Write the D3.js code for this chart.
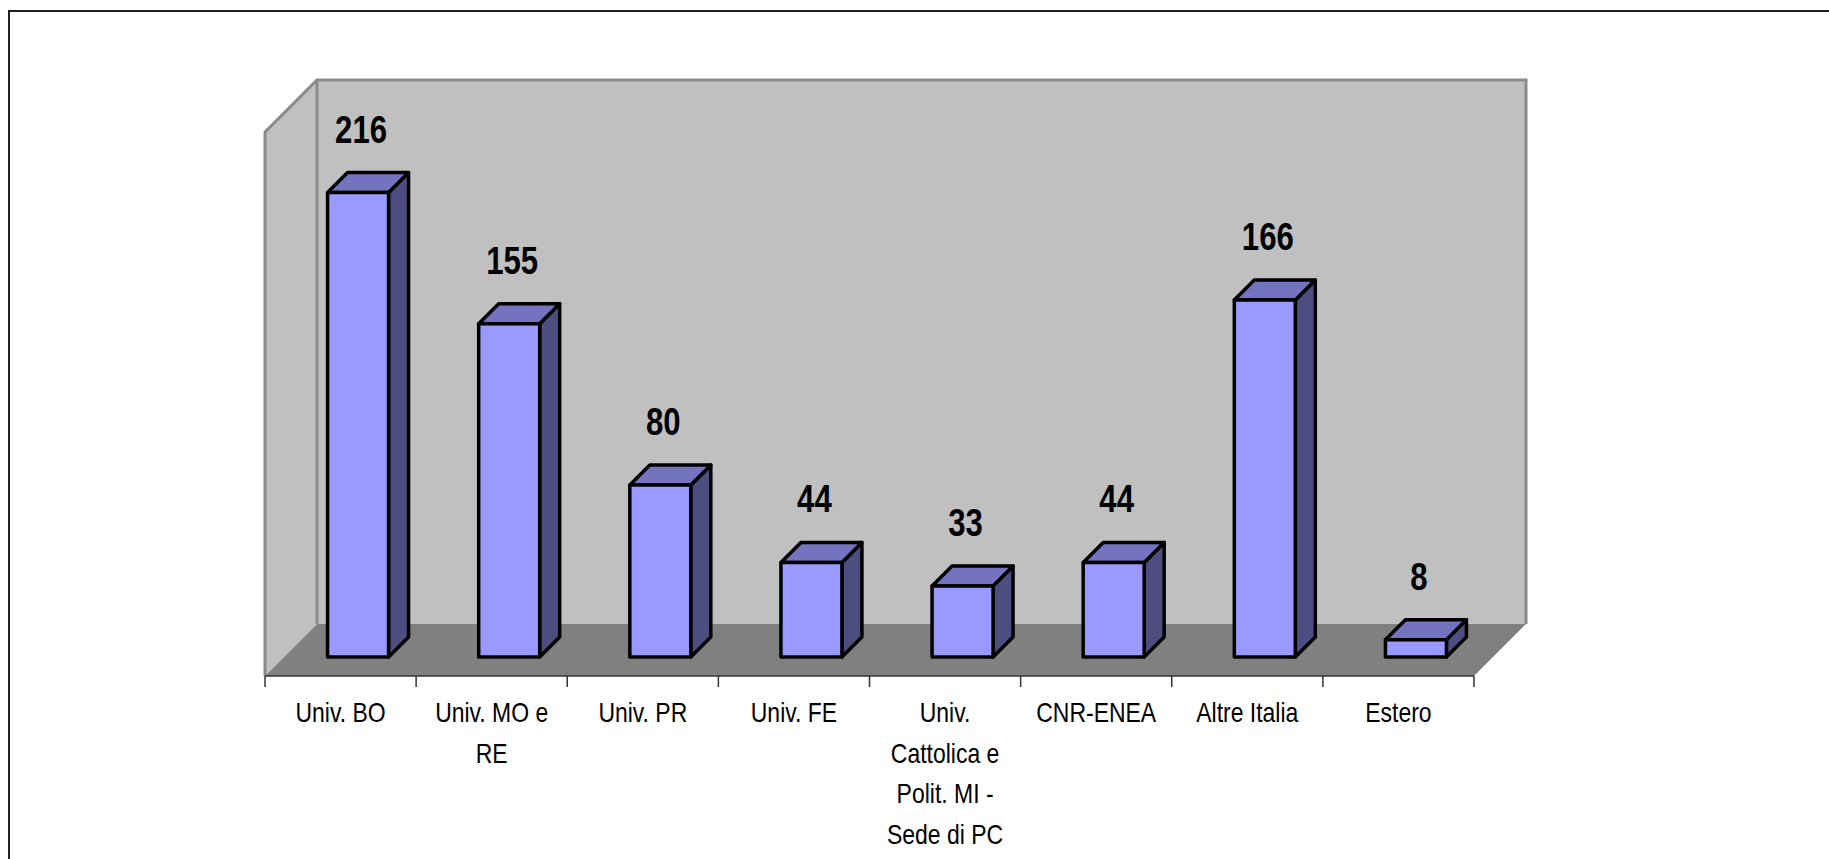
<!DOCTYPE html>
<html>
<head>
<meta charset="utf-8">
<script src="https://cdn.jsdelivr.net/npm/d3@7"></script>
<style>
  body { margin: 0; background: #fff; }
  text { font-family: "Liberation Sans", Arial, sans-serif; }
</style>
</head>
<body>
<svg id="chart" width="1829" height="859"></svg>
<script>
// categories (wrapped as in the picture) and values
const categories = ["Univ. BO", "Univ. MO e RE", "Univ. PR", "Univ. FE",
  "Univ. Cattolica e Polit. MI - Sede di PC", "CNR-ENEA", "Altre Italia", "Estero"];
const labelLines = [["Univ. BO"], ["Univ. MO e", "RE"], ["Univ. PR"], ["Univ. FE"],
  ["Univ.", "Cattolica e", "Polit. MI -", "Sede di PC"], ["CNR-ENEA"], ["Altre Italia"], ["Estero"]];
const values = [216, 155, 80, 44, 33, 44, 166, 8];
const yDomain = [0, 253];

const svg = d3.select("#chart");
const narrow = 0.82; // squeeze Liberation Sans to look like Arial Narrow

// outer frame (runs off the right/bottom edge)
svg.append("rect")
  .attr("x", 9).attr("y", 11).attr("width", 1900).attr("height", 900)
  .attr("fill", "none").attr("stroke", "#222").attr("stroke-width", 2);

const left = 265, right = 1474, floorY = 676;
const D = 52;            // depth of the floor
const z0 = 19, z1 = 39;  // bar front/back depth

const x = d3.scaleBand().domain(categories).range([left, right]).padding(0);
const y = d3.scaleLinear().domain(yDomain).range([floorY, 132]);

const P = (px, py, z) => [px + z, py - z];
const poly = pts => "M" + pts.map(p => p.join(",")).join("L") + "Z";

const wallTop = y(yDomain[1]);
const wall = svg.append("g");

// left side wall
wall.append("path")
  .attr("d", poly([P(left, wallTop, 0), P(left, wallTop, D), P(left, floorY, D), P(left, floorY, 0)]))
  .attr("fill", "#c0c0c0");
// back wall
wall.append("path")
  .attr("d", poly([P(left, wallTop, D), P(right, wallTop, D), P(right, floorY, D), P(left, floorY, D)]))
  .attr("fill", "#c0c0c0");
// floor
wall.append("path")
  .attr("d", poly([P(left, floorY, 0), P(right, floorY, 0), P(right, floorY, D), P(left, floorY, D)]))
  .attr("fill", "#808080");

// wall edges
const edge = pts => wall.append("path")
  .attr("d", "M" + pts.map(p => p.join(",")).join("L"))
  .attr("fill", "none").attr("stroke", "#8a8a8a").attr("stroke-width", 3)
  .attr("stroke-linejoin", "miter");
edge([P(left, floorY, 0), P(left, wallTop, 0), P(left, wallTop, D), P(right, wallTop, D), P(right, floorY, D)]);
edge([P(left, wallTop, D), P(left, floorY, D)]);

// category axis
const axisG = svg.append("g");
axisG.append("line")
  .attr("x1", left).attr("x2", right).attr("y1", floorY).attr("y2", floorY)
  .attr("stroke", "#333").attr("stroke-width", 1.5);
const tickPos = categories.map(c => x(c)).concat([right]);
axisG.selectAll(".tick").data(tickPos).enter().append("line")
  .attr("x1", d => d).attr("x2", d => d)
  .attr("y1", floorY).attr("y2", floorY + 11)
  .attr("stroke", "#333").attr("stroke-width", 1.5);

categories.forEach((c, i) => {
  const cx = x(c) + x.bandwidth() / 2;
  const t = axisG.append("text")
    .attr("transform", `translate(${cx},722) scale(${narrow},1)`)
    .attr("text-anchor", "middle")
    .attr("font-size", 28)
    .attr("fill", "#000");
  labelLines[i].forEach((ln, j) => {
    t.append("tspan").attr("x", 0).attr("dy", j === 0 ? 0 : 40.7).text(ln);
  });
});

// bars
const barW = 61;
const bars = svg.append("g");
categories.forEach((c, i) => {
  const v = values[i];
  const cx = x(c) + x.bandwidth() / 2 - 1.5;
  const x0 = cx - barW / 2, x1 = cx + barW / 2;
  const yt = y(v), yb = y(0);
  const face = (pts, fill) => bars.append("path")
    .attr("d", poly(pts))
    .attr("fill", fill).attr("stroke", "#000").attr("stroke-width", 3.5)
    .attr("stroke-linejoin", "round");
  face([P(x1, yt, z0), P(x1, yt, z1), P(x1, yb, z1), P(x1, yb, z0)], "#4d4d80"); // side
  face([P(x0, yt, z0), P(x1, yt, z0), P(x1, yt, z1), P(x0, yt, z1)], "#7373bf"); // top
  face([P(x0, yt, z0), P(x1, yt, z0), P(x1, yb, z0), P(x0, yb, z0)], "#9999ff"); // front

  // value label
  svg.append("text")
    .attr("transform", `translate(${cx + 22},${y(v) - z0 - 50}) scale(${narrow},1)`)
    .attr("text-anchor", "middle")
    .attr("font-size", 38)
    .attr("font-weight", "bold")
    .attr("fill", "#000")
    .text(v);
});
</script>
</body>
</html>
